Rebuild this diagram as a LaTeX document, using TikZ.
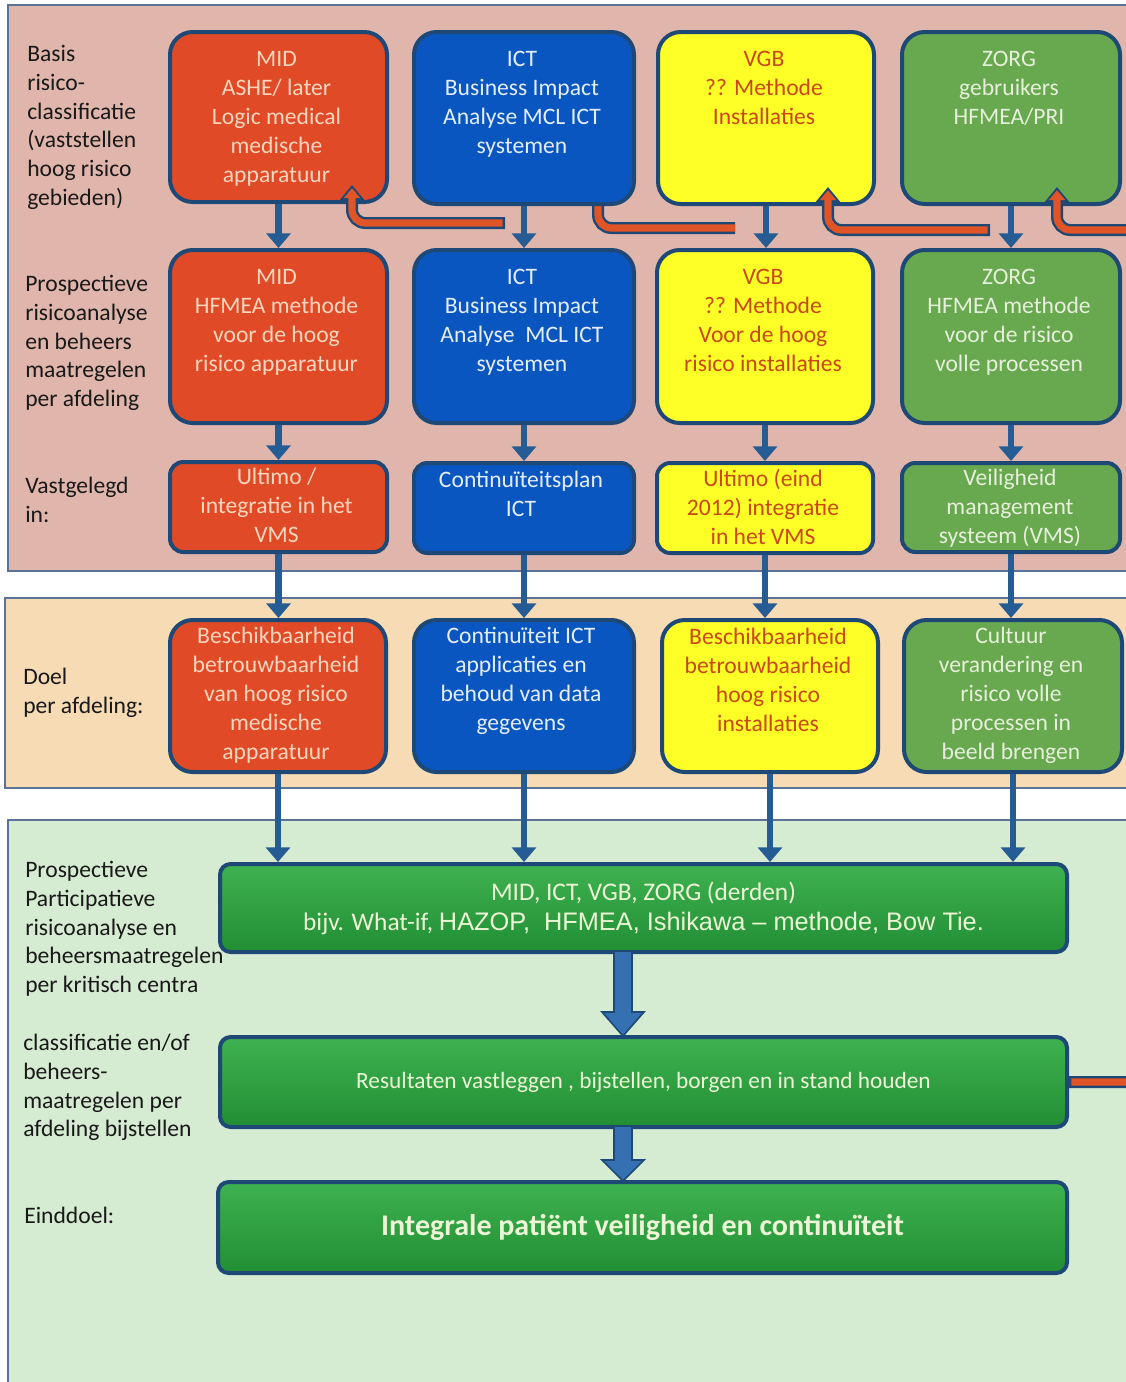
\documentclass[tikz,border=0pt]{standalone}
\usepackage{fontspec}
\setmainfont{Carlito}
\newfontfamily\arialfont{Liberation Sans}
\usetikzlibrary{arrows.meta,calc}
\definecolor{bandA}{RGB}{224,182,172}
\definecolor{bandB}{RGB}{246,219,180}
\definecolor{bandC}{RGB}{214,236,210}
\definecolor{bandline}{RGB}{90,115,150}
\definecolor{bord}{RGB}{30,72,118}
\definecolor{midred}{RGB}{224,74,38}
\definecolor{midtxt}{RGB}{250,214,190}
\definecolor{ictblue}{RGB}{10,86,192}
\definecolor{icttxt}{RGB}{228,238,250}
\definecolor{vgbyel}{RGB}{255,255,40}
\definecolor{vgbtxt}{RGB}{200,72,22}
\definecolor{zorggr}{RGB}{104,168,78}
\definecolor{zorgtxt}{RGB}{230,240,220}
\definecolor{arrb}{RGB}{38,92,148}
\definecolor{blkfill}{RGB}{52,112,178}
\definecolor{gtop}{RGB}{62,178,80}
\definecolor{gbot}{RGB}{34,142,52}
\definecolor{gtxt}{RGB}{236,246,214}
\definecolor{fbred}{RGB}{224,84,38}
\definecolor{lbltxt}{RGB}{25,25,25}
\newcommand\mkbox[7]{\node[#6,minimum width={(#4-#2)*0.75pt},minimum height={(#5-#3)*0.75pt}] (#1) at (#2,#3) {#7};}
\newcommand\fbarrow[1]{\draw[fbhout] #1; \draw[fbhin] #1;}
\begin{document}
\begin{tikzpicture}[x=0.75pt,y=-0.75pt,
 box/.style={draw=bord,line width=3pt,rounded corners=17pt,inner sep=0pt,anchor=north west},
 sbox/.style={box,rounded corners=10pt},
 gbox/.style={draw=bord,line width=3pt,rounded corners=8pt,top color=gtop,bottom color=gbot,text=gtxt,align=center,anchor=north west,inner sep=0pt},
 txt/.style={anchor=north,align=center,inner sep=0pt,font=\fontsize{17.7}{21.75}\selectfont},
 lbl/.style={anchor=north west,align=left,inner sep=0pt,text=lbltxt,font=\fontsize{17.7}{21.5}\selectfont},
 barrow/.style={draw=arrb,line width=5pt,-{Triangle[width=18pt,length=11pt]}},
 blk/.style={draw=bord,line width=1.2pt,fill=blkfill,line join=miter},
 fbout/.style={draw=bord,line width=9pt,rounded corners=10pt},
 fbin/.style={draw=fbred,line width=5.4pt,rounded corners=10pt,shorten <=1.8pt},
 fbhout/.style={fbout,-{Triangle[width=19pt,length=12pt]}},
 fbhin/.style={fbin,shorten >=2.4pt,-{Triangle[width=12pt,length=7.5pt]}},
]
\useasboundingbox (0,0) rectangle (1126,1382);
\fill[white] (0,0) rectangle (1126,1382);
% bands
\draw[bandline,line width=0.8pt,fill=bandA] (8,5) rectangle (1135,571);
\draw[bandline,line width=0.8pt,fill=bandB] (5,598) rectangle (1135,788);
\draw[bandline,line width=0.8pt,fill=bandC] (8,820) rectangle (1135,1392);
% ICT feedback segment (starts under ICT box)
\draw[fbout] (598,175) -- (598,228) -- (735,228);
\draw[fbin] (598,175) -- (598,228) -- (735,228);
% row 1
\mkbox{m1}{168}{30}{385}{200}{box,fill=midred}{}
\mkbox{i1}{412}{30}{632}{202}{box,fill=ictblue}{}
\mkbox{v1}{656}{30}{872}{202}{box,fill=vgbyel}{}
\mkbox{z1}{900}{30}{1118}{202}{box,fill=zorggr}{}
% row 2
\mkbox{m2}{168}{248}{385}{421}{box,fill=midred}{}
\mkbox{i2}{412}{248}{632}{421}{box,fill=ictblue}{}
\mkbox{v2}{655}{248}{871}{421}{box,fill=vgbyel}{}
\mkbox{z2}{900}{248}{1118}{421}{box,fill=zorggr}{}
% row 3
\mkbox{m3}{168}{460}{385}{550}{sbox,fill=midred}{}
\mkbox{i3}{412}{461}{632}{551}{sbox,fill=ictblue}{}
\mkbox{v3}{655}{461}{871}{551}{sbox,fill=vgbyel}{}
\mkbox{z3}{900}{461}{1118}{550}{sbox,fill=zorggr}{}
% row 4
\mkbox{m4}{168}{618}{384}{770}{box,fill=midred}{}
\mkbox{i4}{412}{618}{632}{770}{box,fill=ictblue}{}
\mkbox{v4}{660}{618}{876}{770}{box,fill=vgbyel}{}
\mkbox{z4}{902}{618}{1120}{770}{box,fill=zorggr}{}
% texts row 1
\node[txt,text=midtxt] (m1t) at (276.5,45.5) {\strut MID\\ASHE/ later\\Logic medical\\medische\\apparatuur};
\node[txt,text=icttxt] (i1t) at (522,45.5) {\strut ICT\\Business Impact\\Analyse MCL ICT\\systemen};
\node[txt,text=vgbtxt] (v1t) at (764,45.5) {\strut VGB\\?? Methode\\Installaties};
\node[txt,text=zorgtxt] (z1t) at (1009,45.5) {\strut ZORG\\gebruikers\\HFMEA/PRI};
% texts row 2
\node[txt,text=midtxt] (m2t) at (276.5,263.5) {\strut MID\\HFMEA methode\\voor de hoog\\risico apparatuur};
\node[txt,text=icttxt] (i2t) at (522,263.5) {\strut ICT\\Business Impact\\Analyse\ \ MCL ICT\\systemen};
\node[txt,text=vgbtxt] (v2t) at (763,263.5) {\strut VGB\\?? Methode\\Voor de hoog\\risico installaties};
\node[txt,text=zorgtxt] (z2t) at (1009,263.5) {\strut ZORG\\HFMEA methode\\voor de risico\\volle processen};
% texts row 3
\node[txt,text=midtxt] (m3t) at (276.5,463.5) {\strut Ultimo /\\integratie in het\\VMS};
\node[txt,text=icttxt] (i3t) at (521,466.5) {\strut Continuïteitsplan\\ICT};
\node[txt,text=vgbtxt] (v3t) at (763,465.5) {\strut Ultimo (eind\\2012) integratie\\in het VMS};
\node[txt,text=zorgtxt] (z3t) at (1010,464.5) {\strut Veiligheid\\management\\systeem (VMS)};
% texts row 4
\node[txt,text=midtxt] (m4t) at (276,622.5) {\strut Beschikbaarheid\\betrouwbaarheid\\van hoog risico\\medische\\apparatuur};
\node[txt,text=icttxt] (i4t) at (521,622.5) {\strut Continuïteit ICT\\applicaties en\\behoud van data\\gegevens};
\node[txt,text=vgbtxt] (v4t) at (768,623.5) {\strut Beschikbaarheid\\betrouwbaarheid\\hoog risico\\installaties};
\node[txt,text=zorgtxt] (z4t) at (1011,622.5) {\strut Cultuur\\verandering en\\risico volle\\processen in\\beeld brengen};
% left labels
\node[lbl] (l1) at (27,41.5) {\strut Basis\\risico-\\classificatie\\(vaststellen\\hoog risico\\gebieden)};
\node[lbl] (l2) at (25,271.5) {\strut Prospectieve\\risicoanalyse\\en beheers\\maatregelen\\per afdeling};
\node[lbl] (l3) at (25,473.5) {\strut Vastgelegd\\in:};
\node[lbl] (l4) at (23,664.5) {\strut Doel\\per afdeling:};
\node[lbl] (l5) at (25,857.5) {\strut Prospectieve\\Participatieve\\risicoanalyse en\\beheersmaatregelen\\per kritisch centra};
\node[lbl] (l6) at (23,1030.5) {\strut classificatie en/of\\beheers-\\maatregelen per\\afdeling bijstellen};
\node[lbl] (l7) at (24,1203.5) {\strut Einddoel:};
% bottom boxes
\mkbox{b1}{218}{862}{1065}{950}{gbox,font=\fontsize{19}{22.5}\selectfont}{MID, ICT, VGB, ZORG (derden)\\bijv. What-if, {\arialfont HAZOP,\ \ HFMEA, Ishikawa – methode, Bow Tie.}}
\mkbox{b2}{218}{1035}{1065}{1125}{gbox,font=\fontsize{17.5}{21}\selectfont}{Resultaten vastleggen , bijstellen, borgen en in stand houden}
\mkbox{b3}{216}{1180}{1065}{1271}{gbox,font=\bfseries\fontsize{22.5}{27}\selectfont}{Integrale patiënt veiligheid en continuïteit}
% blue arrows
\foreach \c in {m,i,v,z}{
  \draw[barrow] (\c1.south) -- (\c1.south |- \c2.north);
  \draw[barrow] (\c2.south) -- (\c2.south |- \c3.north);
  \draw[barrow] (\c3.south) -- (\c3.south |- \c4.north);
  \draw[barrow] (\c4.south) -- (\c4.south |- b1.north);
}
% block arrows
\draw[blk] (614,951) -- (614,1012) -- (602,1012) -- (623,1036) -- (644,1012) -- (632,1012) -- (632,951) -- cycle;
\draw[blk] (614,1126) -- (614,1160) -- (602,1160) -- (623,1181) -- (644,1160) -- (632,1160) -- (632,1126) -- cycle;
% feedback arrows
\fbarrow{(505,223) -- (352,223) -- (352,185)}
\fbarrow{(990,230) -- (828,230) -- (828,187)}
\fbarrow{(b2.east) -- ++(80,0) |- (1057,230) -- (1057,187)}
\end{tikzpicture}
\end{document}
